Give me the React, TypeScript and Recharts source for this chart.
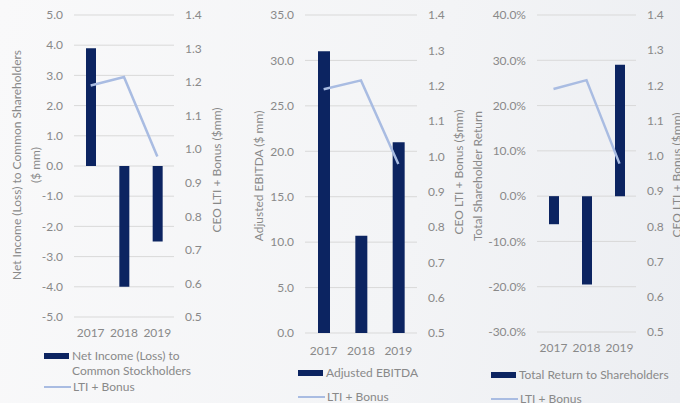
import React from 'react';
import { ComposedChart, Bar, Line, XAxis, YAxis, CartesianGrid, Legend } from 'recharts';

const years = ['2017', '2018', '2019'];
const ltiBonus = [1.19, 1.215, 0.978];
const netIncome = [3.9, -4.0, -2.5];
const adjEbitda = [31.0, 10.7, 21.0];
const totalReturn = [-6.2, -19.5, 29.0];

const rightTicks = [0.5, 0.6, 0.7, 0.8, 0.9, 1.0, 1.1, 1.2, 1.3, 1.4];
const netTicks = [-5, -4, -3, -2, -1, 0, 1, 2, 3, 4, 5];
const ebitdaTicks = [0, 5, 10, 15, 20, 25, 30, 35];
const tsrTicks = [-30, -20, -10, 0, 10, 20, 30, 40];

const NAVY = '#0c2461';
const LIGHT = '#a9bce2';
const TEXT = '#898989';
const FONT = 'Lato, "Open Sans", sans-serif';

const AxisTitle = ({ lines, px, py }: { lines: string[]; px: number[]; py: number }) => (
  <g>
    {lines.map((t, i) => (
      <text
        key={t}
        x={px[i]}
        y={py}
        transform={`rotate(-90 ${px[i]} ${py})`}
        textAnchor="middle"
        dominantBaseline="central"
        fill={TEXT}
        fontSize={12}
        fontFamily={FONT}
      >
        {t}
      </text>
    ))}
  </g>
);

const LegendBox = ({ barText, width }: { barText: string[]; width: number }) => (
  <div style={{ fontFamily: FONT, fontSize: 12, color: TEXT, width, lineHeight: '15px' }}>
    <div style={{ display: 'flex', alignItems: 'flex-start' }}>
      <div style={{ width: 25, height: 6, background: NAVY, marginTop: 5, marginRight: 3, flexShrink: 0 }} />
      <div>
        {barText.map((t) => (
          <div key={t}>{t}</div>
        ))}
      </div>
    </div>
    <div style={{ display: 'flex', alignItems: 'center', marginTop: barText.length > 1 ? 1 : 9 }}>
      <div style={{ width: 27, height: 2, background: LIGHT, marginRight: 2 }} />
      <div>LTI + Bonus</div>
    </div>
  </div>
);

interface PanelProps {
  left: number;
  width: number;
  values: number[];
  ticks: number[];
  fmt: (v: number) => string;
  margin: { top: number; right: number; bottom: number; left: number };
  leftW: number;
  barSize: number;
  xMargin: number;
  leftTitle: string[];
  leftTitleX: number[];
  leftTitleY: number;
  rightTitleX: number;
  rightTitleY: number;
  barText: string[];
  legendPos: { left: number; top: number; width: number };
}

function Panel(p: PanelProps) {
  const data = years.map((y, i) => ({ year: y, value: p.values[i], lti: ltiBonus[i] }));
  const tickStyle = { fill: TEXT, fontSize: 12, fontFamily: FONT };
  return (
    <div style={{ position: 'absolute', left: p.left, top: 0 }}>
      <ComposedChart width={p.width} height={403} data={data} margin={p.margin}>
        <CartesianGrid yAxisId="l" vertical={false} stroke="#d9d9d9" />
        <XAxis
          dataKey="year"
          axisLine={false}
          tickLine={false}
          tickSize={0}
          tickMargin={p.xMargin}
          tick={tickStyle}
          height={30}
          interval={0}
        />
        <YAxis
          yAxisId="l"
          domain={[p.ticks[0], p.ticks[p.ticks.length - 1]]}
          ticks={p.ticks}
          tickFormatter={p.fmt}
          axisLine={false}
          tickLine={false}
          tickSize={0}
          tickMargin={11}
          tick={tickStyle}
          width={p.leftW}
          interval={0}
          label={<AxisTitle lines={p.leftTitle} px={p.leftTitleX} py={p.leftTitleY} />}
        />
        <YAxis
          yAxisId="r"
          orientation="right"
          domain={[0.5, 1.4]}
          ticks={rightTicks}
          tickFormatter={(v: number) => v.toFixed(1)}
          axisLine={false}
          tickLine={false}
          tickSize={0}
          tickMargin={11}
          tick={tickStyle}
          width={30}
          interval={0}
          label={<AxisTitle lines={['CEO LTI + Bonus ($mm)']} px={[p.rightTitleX]} py={p.rightTitleY} />}
        />
        <Bar yAxisId="l" dataKey="value" fill={NAVY} barSize={p.barSize} isAnimationActive={false} />
        <Line
          yAxisId="r"
          dataKey="lti"
          type="linear"
          stroke={LIGHT}
          strokeWidth={2.5}
          dot={false}
          activeDot={false}
          isAnimationActive={false}
        />
        <Legend
          layout="horizontal"
          verticalAlign="middle"
          align="center"
          wrapperStyle={{ left: p.legendPos.left, top: p.legendPos.top, width: p.legendPos.width }}
          content={() => <LegendBox barText={p.barText} width={p.legendPos.width} />}
        />
      </ComposedChart>
    </div>
  );
}

export default function App() {
  return (
    <div
      style={{
        position: 'absolute',
        left: 0,
        top: 0,
        width: 680,
        height: 403,
        overflow: 'hidden',
        background: 'linear-gradient(100deg, #f9f9fa 0%, #f3f4f6 60%, #eceef2 100%)',
      }}
    >
      <Panel
        left={0}
        width={230}
        values={netIncome}
        ticks={netTicks}
        fmt={(v) => v.toFixed(1)}
        margin={{ top: 15, right: 26, bottom: 56, left: 44 }}
        leftW={30}
        barSize={10}
        xMargin={11}
        leftTitle={['Net Income (Loss) to Common Shareholders', '($ mm)']}
        leftTitleX={[16, 35]}
        leftTitleY={165}
        rightTitleX={216}
        rightTitleY={170}
        barText={['Net Income (Loss) to', 'Common Stockholders']}
        legendPos={{ left: 44, top: 348, width: 170 }}
      />
      <Panel
        left={230}
        width={240}
        values={adjEbitda}
        ticks={ebitdaTicks}
        fmt={(v) => v.toFixed(1)}
        margin={{ top: 15, right: 23, bottom: 40, left: 45 }}
        leftW={30}
        barSize={12}
        xMargin={13}
        leftTitle={['Adjusted EBITDA ($ mm)']}
        leftTitleX={[28]}
        leftTitleY={176}
        rightTitleX={228}
        rightTitleY={172}
        barText={['Adjusted EBITDA']}
        legendPos={{ left: 68, top: 365, width: 160 }}
      />
      <Panel
        left={460}
        width={220}
        values={totalReturn}
        ticks={tsrTicks}
        fmt={(v) => `${v.toFixed(1)}%`}
        margin={{ top: 15, right: 14, bottom: 41, left: 45 }}
        leftW={32}
        barSize={10}
        xMargin={11}
        leftTitle={['Total Shareholder Return']}
        leftTitleX={[17]}
        leftTitleY={176}
        rightTitleX={216}
        rightTitleY={175}
        barText={['Total Return to Shareholders']}
        legendPos={{ left: 31, top: 367, width: 185 }}
      />
    </div>
  );
}
